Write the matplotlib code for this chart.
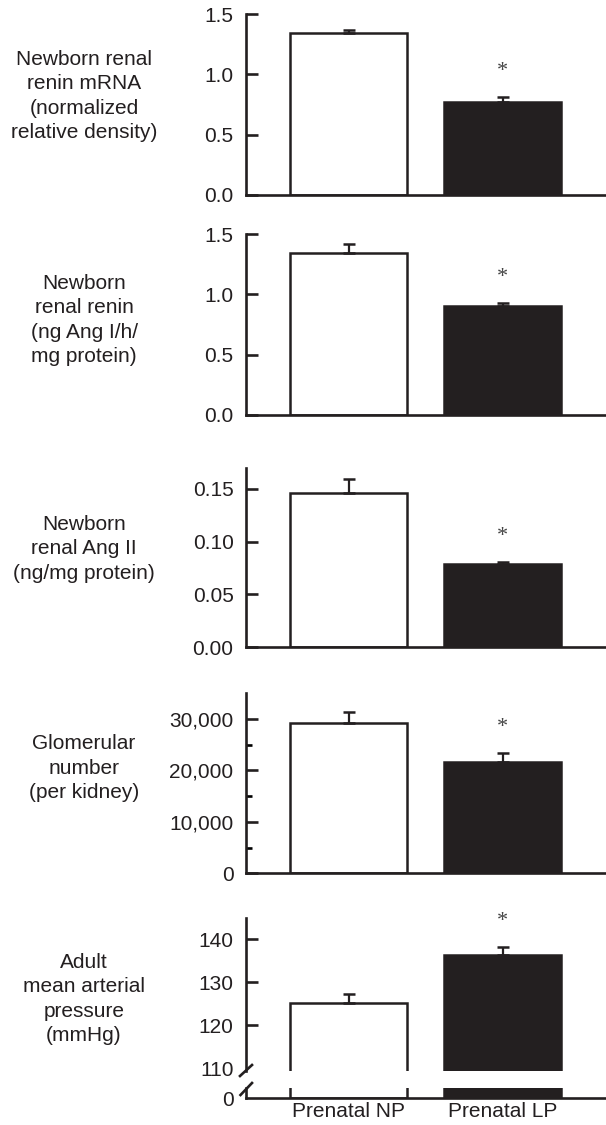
import matplotlib
matplotlib.use('Agg')
import matplotlib.pyplot as plt
import numpy as np
from matplotlib.lines import Line2D
from matplotlib.ticker import FuncFormatter

plt.rcParams['font.family'] = ['Liberation Sans', 'DejaVu Sans']
plt.rcParams['font.size'] = 15

DARK = '#231f20'
W, H = 606, 1125

# data
groups = ['Prenatal NP', 'Prenatal LP']
mrna = [1.34, 0.77]
mrna_err = [0.03, 0.04]
renin = [1.345, 0.90]
renin_err = [0.07, 0.025]
ang2 = [0.146, 0.079]
ang2_err = [0.013, 0.002]
glom = [29200, 21700]
glom_err = [2100, 1650]
map_ = [125.2, 136.3]
map_err = [2.1, 1.9]

labels = [
    'Newborn renal\nrenin mRNA\n(normalized\nrelative density)',
    'Newborn\nrenal renin\n(ng Ang I/h/\nmg protein)',
    'Newborn\nrenal Ang II\n(ng/mg protein)',
    'Glomerular\nnumber\n(per kidney)',
    'Adult\nmean arterial\npressure\n(mmHg)',
]
label_y = [96, 320, 549, 768, 999]

x = np.arange(len(groups))
bw = 0.76
xlim = (-0.666, 1.672)

fig = plt.figure(figsize=(W / 100, H / 100), dpi=100)


def px_axes(top, bottom):
    return fig.add_axes([246 / W, 1 - bottom / H, 1 - 246 / W, (bottom - top) / H])


def style(ax, bottom=True):
    for s in ['top', 'right']:
        ax.spines[s].set_visible(False)
    ax.spines['bottom'].set_visible(bottom)
    for s in ['left', 'bottom']:
        ax.spines[s].set_linewidth(1.9)
        ax.spines[s].set_color(DARK)
    ax.tick_params(axis='y', direction='in', length=8.5, width=1.9, pad=9,
                   colors=DARK, labelsize=15)
    ax.tick_params(axis='y', which='minor', direction='in', length=4.5, width=1.9)
    ax.set_xticks([])
    ax.set_xlim(*xlim)


def draw(ax, vals, errs, star=True):
    ax.bar(x, vals, bw, color=['white', DARK], edgecolor=DARK, linewidth=1.8, zorder=2)
    ax.errorbar(x, vals, yerr=[np.zeros(len(vals)), errs], fmt='none', ecolor=DARK,
                elinewidth=1.6, capsize=4.5, capthick=1.8, zorder=3)
    if star:
        ax.annotate('*', (x[1], vals[1] + errs[1]), xytext=(0, 18.5),
                    textcoords='offset points', ha='center', va='center',
                    fontsize=16, family='Liberation Serif', color='#444444')


# panel 1
ax1 = px_axes(14, 195)
draw(ax1, mrna, mrna_err)
ax1.set_ylim(0, 1.5)
ax1.set_yticks([0, 0.5, 1.0, 1.5])
ax1.yaxis.set_major_formatter(FuncFormatter(lambda v, p: f'{v:.1f}'))
style(ax1)

# panel 2
ax2 = px_axes(234, 415)
draw(ax2, renin, renin_err)
ax2.set_ylim(0, 1.5)
ax2.set_yticks([0, 0.5, 1.0, 1.5])
ax2.yaxis.set_major_formatter(FuncFormatter(lambda v, p: f'{v:.1f}'))
style(ax2)

# panel 3
ax3 = px_axes(467.7, 647.3)
draw(ax3, ang2, ang2_err)
ax3.set_ylim(0, 0.17)
ax3.set_yticks([0, 0.05, 0.10, 0.15])
ax3.yaxis.set_major_formatter(FuncFormatter(lambda v, p: f'{v:.2f}'))
style(ax3)

# panel 4
ax4 = px_axes(693.3, 873.3)
draw(ax4, glom, glom_err)
ax4.set_ylim(0, 35000)
ax4.set_yticks([0, 10000, 20000, 30000])
ax4.set_yticks([5000, 15000, 25000], minor=True)
ax4.yaxis.set_major_formatter(FuncFormatter(lambda v, p: f'{int(v):,}'))
style(ax4)

# panel 5 (broken axis)
ax5 = px_axes(918, 1071)
draw(ax5, map_, map_err)
ax5.set_ylim(109.4, 145)
ax5.set_yticks([110, 120, 130, 140])
style(ax5, bottom=False)
ax5.yaxis.get_major_ticks()[0].tick1line.set_visible(False)

ax5b = px_axes(1088, 1098.3)
draw(ax5b, map_, map_err, star=False)
ax5b.set_ylim(0, 1)
ax5b.set_yticks([0])
style(ax5b)
ax5b.yaxis.get_major_ticks()[0].tick1line.set_visible(False)
ax5b.set_xticks(x)
ax5b.set_xticklabels(groups, color=DARK)
ax5b.tick_params(axis='x', length=0, pad=3, labelsize=15)

# break marks on the y axis
for (x1, y1), (x2, y2) in [((240, 1076), (252, 1065)), ((240.5, 1095), (252, 1083))]:
    fig.add_artist(Line2D([x1 / W, x2 / W], [1 - y1 / H, 1 - y2 / H],
                          transform=fig.transFigure, color=DARK, linewidth=1.9))

# left labels
for txt, yc in zip(labels, label_y):
    fig.text(84 / W, 1 - yc / H, txt, ha='center', va='center', multialignment='center',
             fontsize=15, color=DARK, linespacing=1.37)

fig.savefig('out.png', dpi=100)
